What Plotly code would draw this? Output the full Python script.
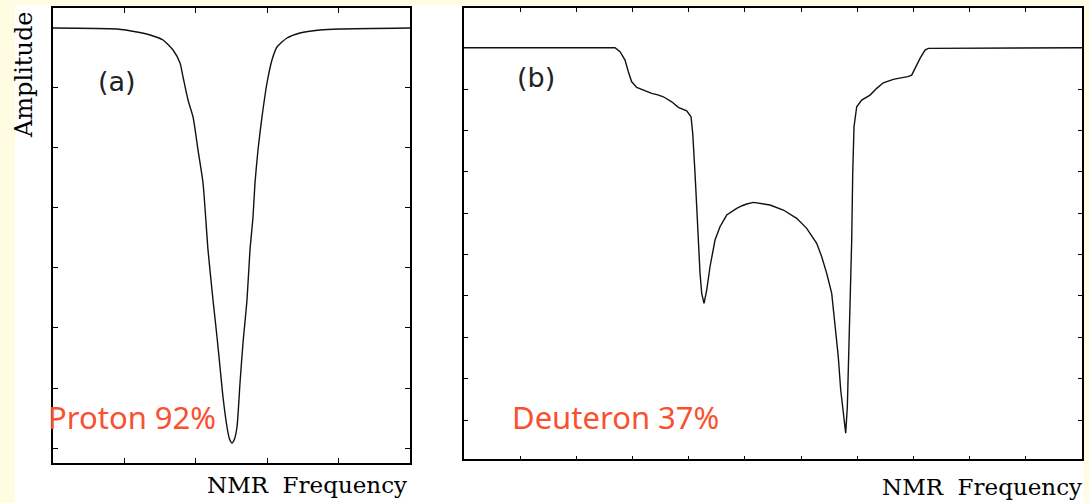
import plotly.graph_objects as go

W, H = 1089, 503

# Panel (a): proton NMR line (frequency in tick units 0..5, amplitude in tick units, baseline = 7)
proton_freq = [0.0, 0.896, 1.176, 1.359, 1.541, 1.681, 1.779, 1.821, 1.891, 1.961, 2.031,
               2.101, 2.171, 2.241, 2.297, 2.339, 2.381, 2.437, 2.472, 2.507, 2.542, 2.577,
               2.619, 2.661, 2.717, 2.759, 2.801, 2.829, 2.871, 2.927, 2.997, 3.067, 3.137,
               3.277, 3.459, 3.739, 4.020, 5.0]
proton_amp = [7.0, 6.983, 6.933, 6.883, 6.80, 6.633, 6.417, 6.183, 5.80, 5.517, 4.967,
              4.417, 3.30, 2.467, 1.85, 1.35, 0.85, 0.35, 0.15, 0.083, 0.15, 0.35,
              1.083, 1.75, 2.467, 3.30, 3.85, 4.417, 4.967, 5.517, 6.083, 6.467, 6.683,
              6.833, 6.917, 6.967, 6.983, 7.0]

# Panel (b): deuteron NMR line (frequency in tick units 0..11, amplitude in tick units, baseline = 9)
deut_freq = [0.0, 2.688, 2.777, 2.866, 2.925, 2.985, 3.074, 3.163, 3.25, 3.341, 3.45, 3.548,
             3.697, 3.815, 3.964, 4.041, 4.071, 4.099, 4.112, 4.142, 4.171, 4.201, 4.231,
             4.272, 4.320, 4.379, 4.468, 4.557, 4.676, 4.854, 4.95, 5.032, 5.15, 5.269, 5.447,
             5.684, 5.922, 6.100, 6.278, 6.367, 6.456, 6.545, 6.604, 6.662, 6.705, 6.752,
             6.794, 6.823, 6.841, 6.871, 6.901, 6.919, 6.942, 6.990, 7.079, 7.227, 7.346,
             7.464, 7.55, 7.642, 7.73, 7.820, 7.9, 7.969, 8.028, 8.117, 8.206, 8.265, 11.0]
deut_amp = [9.0, 9.0, 8.902, 8.701, 8.418, 8.176, 8.041, 7.993, 7.96, 7.896, 7.86, 7.814,
            7.693, 7.558, 7.476, 7.330, 6.929, 6.364, 5.963, 5.155, 4.189, 3.546, 3.062,
            2.821, 3.142, 3.705, 4.350, 4.672, 4.955, 5.117, 5.18, 5.221, 5.26, 5.238, 5.198,
            5.076, 4.875, 4.633, 4.271, 3.947, 3.546, 3.062, 2.337, 1.530, 0.725, 0.080,
            -0.321, 0.321, 1.129, 2.738, 4.350, 5.963, 7.089, 7.572, 7.734, 7.855, 8.017,
            8.152, 8.20, 8.235, 8.26, 8.273, 8.30, 8.338, 8.500, 8.742, 8.943, 8.984, 9.0]

proton_xticks = [1, 2, 3, 4]
proton_yticks = [0, 1, 2, 3, 4, 5, 6]
deut_xticks = [1, 2, 3, 4, 5, 6, 7, 8, 9, 10]
deut_yticks = [0, 1, 2, 3, 4, 5, 6, 7, 8]

fig = go.Figure()
fig.add_trace(go.Scatter(x=proton_freq, y=proton_amp, mode="lines",
                         line=dict(color="#111111", width=1.4, shape="spline", smoothing=0.6),
                         xaxis="x", yaxis="y", showlegend=False, hoverinfo="skip"))
fig.add_trace(go.Scatter(x=deut_freq, y=deut_amp, mode="lines",
                         line=dict(color="#111111", width=1.4),
                         xaxis="x2", yaxis="y2", showlegend=False, hoverinfo="skip"))

def ax(domain, rng, ticks, ticklen, anchor, lw):
    return dict(domain=domain, range=rng, tickvals=ticks, ticks="inside", ticklen=ticklen,
                tickwidth=1, tickcolor="black", showticklabels=False, showgrid=False,
                zeroline=False, showline=True, linecolor="black", linewidth=lw,
                mirror="ticks", anchor=anchor, fixedrange=True)

fig.update_layout(
    width=W, height=H,
    margin=dict(l=0, r=0, t=0, b=0),
    paper_bgcolor="#FFFCE1",
    plot_bgcolor="white",
    xaxis=ax([53 / W, 410 / W], [0, 5], proton_xticks, 5, "y", 1.8),
    yaxis=ax([1 - 463 / H, 1 - 8 / H], [-0.25, 7.333], proton_yticks, 5, "x", 1.8),
    xaxis2=ax([464 / W, 1082 / W], [0, 11], deut_xticks, 4, "y2", 1.6),
    yaxis2=ax([1 - 459.3 / H, 1 - 8 / H], [-0.95, 9.96], deut_yticks, 4, "x2", 1.6),
    shapes=[dict(type="rect", xref="paper", yref="paper", x0=15 / W, x1=1084 / W,
                 y0=0, y1=1 - 5 / H, fillcolor="white", line=dict(width=0), layer="below")],
)

serif = "DejaVu Serif"
red = "#F9512F"
annots = [
    dict(text="Amplitude", x=24 / W, y=1 - 75 / H, textangle=-90,
         font=dict(family=serif, size=24, color="black")),
    dict(text="NMR\u00a0\u00a0Frequency", x=409 / W, y=1 - 485 / H, xanchor="right",
         font=dict(family=serif, size=23, color="black")),
    dict(text="NMR\u00a0\u00a0Frequency", x=1084 / W, y=1 - 487 / H, xanchor="right",
         font=dict(family=serif, size=23, color="black")),
    dict(text="(a)", x=117 / W, y=1 - 82 / H,
         font=dict(family="DejaVu Sans", size=27, color="#222222")),
    dict(text="(b)", x=536 / W, y=1 - 78 / H,
         font=dict(family="DejaVu Sans", size=27, color="#222222")),
    dict(text="Proton 92%", x=46 / W, y=1 - 417 / H, xanchor="left",
         font=dict(family="Noto Sans", size=31, color=red)),
    dict(text="Deuteron 37%", x=510 / W, y=1 - 417 / H, xanchor="left",
         font=dict(family="Noto Sans", size=31, color=red)),
]
for a in annots:
    a.setdefault("xanchor", "center")
    a.update(xref="paper", yref="paper", yanchor="middle", showarrow=False)
fig.update_layout(annotations=annots)

fig.write_html("out.html", config={"displayModeBar": False})
